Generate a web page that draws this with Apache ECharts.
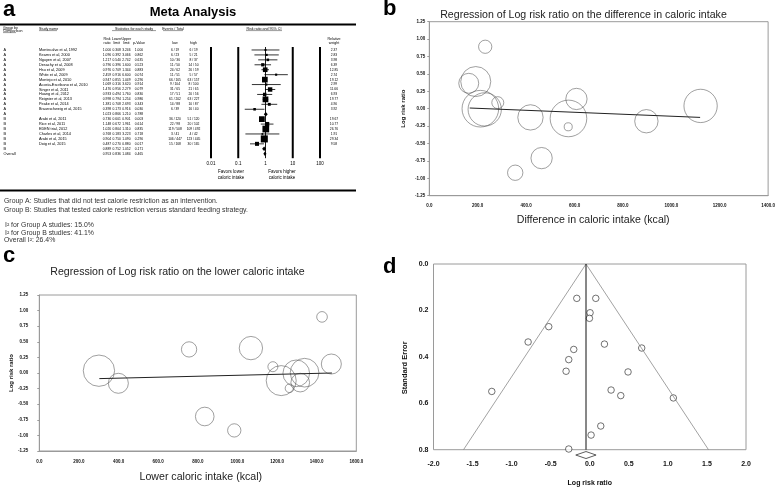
<!DOCTYPE html>
<html>
<head>
<meta charset="utf-8">
<script src="https://cdn.jsdelivr.net/npm/echarts@6/dist/echarts.min.js"></script>
<style>html,body{margin:0;padding:0;background:#fff}#main{width:778px;height:489px}</style>
</head>
<body>
<div id="main"></div>
<script>
// ===== Panel a : forest plot table =====
const groupLabels = ['A','A','A','A','A','A','A','A','A','A','A','A','A','A','B','B','B','B','B','B','B','Overall'];
const studyNames = ['Montecalvo et al, 1992','Kearns et al, 2000','Nguyen et al, 2007','Desachy et al, 2008','Hsu et al, 2009','White et al, 2009','Montejo et al, 2010','Acosta-Escribano et al, 2010','Singer et al, 2011','Huang et al, 2012','Reignier et al, 2013','Peake et al, 2014','Braunschweig et al, 2015','','Arabi et al, 2011','Rice et al, 2011','EDEN trial, 2012','Charles et al, 2014','Arabi et al, 2015','Doig et al, 2015','',''];
const riskRatio  = [1.000,1.096,1.217,0.796,0.976,2.459,0.947,1.069,1.476,0.933,0.998,1.381,0.398,1.023,0.736,1.148,1.026,0.768,0.904,0.487,0.889,0.953];
const lowerLimit = [0.308,0.392,0.540,0.396,0.709,0.916,0.855,0.316,0.956,0.494,0.794,0.708,0.173,0.866,0.601,0.672,0.804,0.183,0.750,0.270,0.752,0.836];
const upperLimit = [3.246,3.066,2.742,1.600,1.344,6.600,1.049,3.620,2.279,1.760,1.254,2.693,0.916,1.210,0.901,1.961,1.310,3.223,1.090,0.880,1.052,1.084];
const pValue     = [1.000,0.862,0.635,0.523,0.883,0.074,0.296,0.914,0.079,0.830,0.986,0.343,0.030,0.788,0.003,0.614,0.835,0.718,0.290,0.017,0.171,0.465];
const eventsLow  = ['6 / 19','6 / 23','10 / 36','11 / 50','24 / 62','11 / 51','66 / 165','9 / 104','31 / 65','17 / 51','61 / 202','14 / 88','6 / 39','','36 / 120','22 / 98','119 / 508','3 / 41','106 / 447','15 / 168','',''];
const eventsHigh = ['6 / 19','5 / 21','8 / 37','14 / 50','26 / 59','5 / 57','63 / 157','8 / 100','21 / 65','20 / 56','63 / 227','10 / 87','16 / 40','','51 / 120','20 / 102','109 / 492','4 / 42','123 / 445','30 / 165','',''];
const relWeight  = [2.37,2.83,3.98,6.39,12.85,2.74,19.12,2.99,11.66,6.93,19.77,4.90,3.92,null,19.67,10.77,26.76,1.91,29.34,9.58,null,null];
const isSummary  = [0,0,0,0,0,0,0,0,0,0,0,0,0,1,0,0,0,0,0,0,1,1];
const forestTicks = [0.01, 0.1, 1, 10, 100];

// ===== Panel b : regression on difference in caloric intake =====
const diffIntake = [231, 163, 192, 283, 211, 229, 418, 575, 574, 608, 464, 355, 897, 1121];
const diffLogRR  = [0.89, 0.365, 0.39, 0.087, 0.0, -0.01, -0.125, -0.14, -0.26, 0.14, -0.71, -0.92, -0.18, 0.04];
const diffWeight = [3.8, 8.6, 19.5, 3.1, 29, 24, 13.9, 29, 1.4, 9.8, 9.8, 5.1, 11.8, 24];
const diffRegLine = [[167, 0.01], [1119, -0.125]];

// ===== Panel c : regression on lower caloric intake =====
const lowIntake = [301, 399, 756, 835, 984, 1068, 1179, 1221, 1263, 1297, 1317, 1339, 1427, 1474];
const lowLogRR  = [0.037, -0.165, 0.378, -0.697, -0.92, 0.399, 0.101, -0.122, -0.245, -0.005, -0.154, 0.005, 0.899, 0.144];
const lowWeight = [29.4, 12, 7, 10.4, 5.3, 16.3, 3, 27, 2.25, 21.3, 10.4, 24.6, 3.4, 12];
const lowRegLine = [[303, -0.09], [1477, 0.0]];

// ===== Panel d : funnel plot =====
const funnelLogRR = [-0.166, 0.077, 0.004, -0.004, -0.525, -0.789, 0.188, 0.665, -0.205, -0.269, -0.303, 0.490, -1.254, 0.273, 0.397, 1.070, 0.141, 0.017, -0.269];
const funnelSE    = [0.148, 0.148, 0.210, 0.234, 0.270, 0.336, 0.345, 0.362, 0.368, 0.412, 0.462, 0.465, 0.549, 0.543, 0.567, 0.577, 0.698, 0.737, 0.797];
const pooledLogRR = -0.048;
const pooledCI = [-0.179, 0.081];
const funnelLeft  = [[-0.048, 0], [-1.616, 0.8]];
const funnelRight = [[-0.048, 0], [1.52, 0.8]];
const funnelMid   = [[-0.048, 0], [-0.048, 0.8]];
const diamondSE = 0.823;

// ---------------- layout / styles ----------------
const FONT = '"Liberation Sans", Arial, sans-serif';
const nameFont = '3.8px ' + FONT;
const numFont = '3.3px ' + FONT;
const tableCols = [
  {src: groupLabels, x: 3.5, align: 'left', font: nameFont},
  {src: studyNames,  x: 39,  align: 'left', font: nameFont},
  {src: riskRatio,   x: 107, align: 'center', dec: 3, font: numFont},
  {src: lowerLimit,  x: 116.7, align: 'center', dec: 3, font: numFont},
  {src: upperLimit,  x: 126.4, align: 'center', dec: 3, font: numFont},
  {src: pValue,      x: 139, align: 'center', dec: 3, font: numFont},
  {src: eventsLow,   x: 175, align: 'center', font: numFont},
  {src: eventsHigh,  x: 193.5, align: 'center', font: numFont},
  {src: relWeight,   x: 334, align: 'center', dec: 2, font: numFont}
];

function txt(text, x, y, font, align, valign, fill, rotation) {
  return {
    type: 'text', x: x, y: y, rotation: rotation || 0, silent: true,
    style: {text: text, font: font, fill: fill || '#000',
      align: align || 'left', textAlign: align || 'left',
      verticalAlign: valign || 'middle', textVerticalAlign: valign || 'middle'}
  };
}
function hline(x1, x2, y, w, c) {
  return {type: 'line', silent: true, shape: {x1: x1, y1: y, x2: x2, y2: y}, style: {stroke: c || '#000', lineWidth: w}};
}

const hdrFont = '3.6px ' + FONT;
const noteFont = '6.9px ' + FONT;
const graphics = [
  txt('a', 3, 10, 'bold 22px ' + FONT),
  txt('b', 383, 9, 'bold 22px ' + FONT),
  txt('c', 3, 256, 'bold 22px ' + FONT),
  txt('d', 383, 267, 'bold 22px ' + FONT),
  txt('Meta Analysis', 193, 12, 'bold 13px ' + FONT, 'center'),
  hline(0, 356, 24.5, 2),
  hline(0, 356, 190.5, 2),
  // headers
  txt('Group by', 3, 28, hdrFont), txt('Comparison', 3, 31, hdrFont),
  hline(3, 11, 29.6, 0.4), hline(3, 16, 32.6, 0.4),
  txt('Study name', 39, 29, hdrFont), hline(39, 57, 30.6, 0.4),
  txt('Statistics for each study', 134, 29, hdrFont, 'center'), hline(112, 156, 30.6, 0.4),
  txt('Events / Total', 173, 29, hdrFont, 'center'), hline(163, 183, 30.6, 0.4),
  txt('Risk ratio and 95% CI', 264, 29, hdrFont, 'center'), hline(246, 282, 30.6, 0.4),
  txt('Risk', 107, 39, hdrFont, 'center'), txt('ratio', 107, 43, hdrFont, 'center'),
  txt('Lower', 116.7, 39, hdrFont, 'center'), txt('limit', 116.7, 43, hdrFont, 'center'),
  txt('Upper', 126.4, 39, hdrFont, 'center'), txt('limit', 126.4, 43, hdrFont, 'center'),
  txt('p-Value', 139, 43, hdrFont, 'center'),
  txt('low', 175, 43, hdrFont, 'center'), txt('high', 193.5, 43, hdrFont, 'center'),
  txt('Relative', 334, 39, hdrFont, 'center'), txt('weight', 334, 43, hdrFont, 'center'),
  txt('Favors lower', 231, 172, '4.5px ' + FONT, 'center'),
  txt('caloric intake', 231, 178, '4.5px ' + FONT, 'center'),
  txt('Favors higher', 282, 172, '4.5px ' + FONT, 'center'),
  txt('caloric intake', 282, 178, '4.5px ' + FONT, 'center'),
  // footnotes
  txt('Group A: Studies that did not test calorie restriction as an intervention.', 4, 201.5, noteFont, 'left', 'middle', '#333'),
  txt('Group B: Studies that tested calorie restriction versus standard feeding strategy.', 4, 210.5, noteFont, 'left', 'middle', '#333'),
  txt('I\u00B2 for Group A studies: 15.0%', 5, 225.5, noteFont, 'left', 'middle', '#333'),
  txt('I\u00B2 for Group B studies: 41.1%', 5, 233, noteFont, 'left', 'middle', '#333'),
  txt('Overall I\u00B2: 26.4%', 4, 240.5, noteFont, 'left', 'middle', '#333'),
  // titles
  txt('Regression of Log risk ratio on the difference in caloric intake', 583.5, 15, '10.6px ' + FONT, 'center', 'middle', '#222'),
  txt('Regression of Log risk ratio on the lower caloric intake', 177.5, 272, '10.6px ' + FONT, 'center', 'middle', '#222')
];

function fmtCell(c, i) {
  const v = c.src[i];
  if (v === null || v === undefined || v === '') return '';
  return c.dec !== undefined ? Number(v).toFixed(c.dec) : String(v);
}

function renderForest(params, api) {
  const row = api.value(3);
  const y = api.coord([1, row])[1];
  const xc = api.coord([api.value(0), row])[0];
  const xl = api.coord([api.value(1), row])[0];
  const xh = api.coord([api.value(2), row])[0];
  const children = [];
  if (params.dataIndex === 0) {
    const cs = params.coordSys;
    forestTicks.forEach(function (t) {
      const x = api.coord([t, 0])[0];
      children.push({type: 'line', shape: {x1: x, y1: cs.y - 0.5, x2: x, y2: cs.y + cs.height + 2},
        style: {stroke: '#000', lineWidth: t === 1 ? 0.9 : 2}});
    });
  }
  if (api.value(5) === 1) {
    children.push({type: 'polygon', shape: {points: [[xl, y], [xc, y - 2.2], [xh, y], [xc, y + 2.2]]}, style: {fill: '#000'}});
  } else {
    const s = 1.3 * Math.sqrt(api.value(4));
    children.push({type: 'line', shape: {x1: xl, y1: y, x2: xh, y2: y}, style: {stroke: '#000', lineWidth: 0.8}});
    children.push({type: 'rect', shape: {x: xc - s / 2, y: y - s / 2, width: s, height: s}, style: {fill: '#000'}});
  }
  return {type: 'group', children: children};
}

function renderTable(params, api) {
  const i = params.dataIndex;
  const y = api.coord([1, i])[1];
  return {
    type: 'group',
    children: tableCols.map(function (c) {
      return txt(fmtCell(c, i), c.x, y, c.font, c.align, 'middle', '#000');
    })
  };
}

function renderDiamond(params, api) {
  const c = api.coord([api.value(0), api.value(3)]);
  const l = api.coord([api.value(1), api.value(3)]);
  const h = api.coord([api.value(2), api.value(3)]);
  return {type: 'polygon', shape: {points: [[l[0], c[1]], [c[0], c[1] - 3.5], [h[0], c[1]], [c[0], c[1] + 3.5]]},
    style: {fill: '#fff', stroke: '#333', lineWidth: 0.8}};
}

const forestData = riskRatio.map(function (rr, i) {
  return [rr, lowerLimit[i], upperLimit[i], i, relWeight[i] || 0, isSummary[i]];
});
const tableData = studyNames.map(function (n, i) { return [1, i]; });

const gray = '#9a9a9a';
const smallLab = {fontSize: 4.5, fontWeight: 'bold', color: '#111', fontFamily: FONT};

function regAxisX(idx, max, name, gap, pad) {
  return {
    type: 'value', gridIndex: idx, min: 0, max: max, interval: 200,
    axisLine: {show: true, onZero: false, lineStyle: {color: gray, width: 1}},
    axisTick: {show: false}, splitLine: {show: false},
    axisLabel: Object.assign({margin: 8, formatter: function (v) { return v.toFixed(1); }}, smallLab),
    name: name, nameLocation: 'middle', nameGap: gap,
    nameTextStyle: {fontSize: 10.6, color: '#222', fontFamily: FONT, padding: pad}
  };
}
function regAxisY(idx, margin, gap) {
  return {
    type: 'value', gridIndex: idx, min: -1.25, max: 1.25, interval: 0.25,
    axisLine: {show: true, onZero: false, lineStyle: {color: gray, width: 1}},
    axisTick: {show: true, length: 2, lineStyle: {color: gray}}, splitLine: {show: false},
    axisLabel: Object.assign({margin: margin, formatter: function (v) { return v.toFixed(2); }}, smallLab),
    name: 'Log risk ratio', nameLocation: 'middle', nameGap: gap, nameRotate: 90,
    nameTextStyle: {fontSize: 6, fontWeight: 'bold', color: '#111', fontFamily: FONT}
  };
}

const option = {
  animation: false,
  backgroundColor: '#fff',
  graphic: {elements: graphics},
  grid: [
    {left: 211, top: 47.5, width: 109, height: 108.7},
    {left: 429.3, top: 21.7, width: 340.7, height: 174, show: true, borderColor: gray, borderWidth: 1},
    {left: 39.3, top: 295, width: 317, height: 156, show: true, borderColor: gray, borderWidth: 1},
    {left: 433.5, top: 264, width: 312.5, height: 185.7, show: true, borderColor: gray, borderWidth: 1}
  ],
  xAxis: [
    {type: 'log', logBase: 10, gridIndex: 0, min: 0.01, max: 100,
      axisLine: {show: false}, axisTick: {show: false}, splitLine: {show: false},
      axisLabel: {fontSize: 4.5, color: '#000', margin: 5, fontFamily: FONT,
        formatter: function (v) { return v >= 1 ? String(Math.round(v)) : String(+v.toPrecision(1)); }}},
    regAxisX(1, 1400, 'Difference in caloric intake (kcal)', 19, [0, 11, 0, 0]),
    regAxisX(2, 1600, 'Lower caloric intake (kcal)', 20.4, [0, 0, 0, 6]),
    {type: 'value', gridIndex: 3, min: -2, max: 2, interval: 0.5,
      axisLine: {show: false}, axisTick: {show: false}, splitLine: {show: false},
      axisLabel: {fontSize: 7, fontWeight: 'bold', color: '#111', margin: 11, fontFamily: FONT,
        formatter: function (v) { return v.toFixed(1); }},
      name: 'Log risk ratio', nameLocation: 'middle', nameGap: 30,
      nameTextStyle: {fontSize: 7, fontWeight: 'bold', color: '#111', fontFamily: FONT}}
  ],
  yAxis: [
    {type: 'value', gridIndex: 0, min: -0.5, max: 21.5, inverse: true, show: false},
    regAxisY(1, 4, 23),
    regAxisY(2, 11, 21),
    {type: 'value', gridIndex: 3, min: 0, max: 0.8, interval: 0.2, inverse: true,
      axisLine: {show: false}, axisTick: {show: false}, splitLine: {show: false},
      axisLabel: {fontSize: 7, fontWeight: 'bold', color: '#111', margin: 5, fontFamily: FONT,
        formatter: function (v) { return v.toFixed(1); }},
      name: 'Standard Error', nameLocation: 'middle', nameGap: 24.5, nameRotate: 90,
      nameTextStyle: {fontSize: 7.5, fontWeight: 'bold', color: '#111', fontFamily: FONT, padding: [0, 22, 0, 0]}}
  ],
  series: [
    {type: 'custom', xAxisIndex: 0, yAxisIndex: 0, clip: false, silent: true,
      renderItem: renderForest, data: forestData, z: 3},
    {type: 'custom', xAxisIndex: 0, yAxisIndex: 0, clip: false, silent: true,
      renderItem: renderTable, data: tableData, z: 3},
    {type: 'line', xAxisIndex: 1, yAxisIndex: 1, data: diffRegLine, symbol: 'none', silent: true,
      lineStyle: {color: '#222', width: 1}},
    {type: 'scatter', xAxisIndex: 1, yAxisIndex: 1, silent: true,
      data: diffIntake.map(function (x, i) { return [x, diffLogRR[i], diffWeight[i]]; }),
      symbolSize: function (v) { return 6.8 * Math.sqrt(v[2]); },
      itemStyle: {color: 'rgba(0,0,0,0)', borderColor: '#555', borderWidth: 0.7}},
    {type: 'line', xAxisIndex: 2, yAxisIndex: 2, data: lowRegLine, symbol: 'none', silent: true,
      lineStyle: {color: '#222', width: 1}},
    {type: 'scatter', xAxisIndex: 2, yAxisIndex: 2, silent: true,
      data: lowIntake.map(function (x, i) { return [x, lowLogRR[i], lowWeight[i]]; }),
      symbolSize: function (v) { return 5.78 * Math.sqrt(v[2]); },
      itemStyle: {color: 'rgba(0,0,0,0)', borderColor: '#555', borderWidth: 0.7}},
    {type: 'line', xAxisIndex: 3, yAxisIndex: 3, data: funnelLeft, symbol: 'none', silent: true,
      lineStyle: {color: '#8a8a8a', width: 0.8}},
    {type: 'line', xAxisIndex: 3, yAxisIndex: 3, data: funnelRight, symbol: 'none', silent: true,
      lineStyle: {color: '#8a8a8a', width: 0.8}},
    {type: 'line', xAxisIndex: 3, yAxisIndex: 3, data: funnelMid, symbol: 'none', silent: true,
      lineStyle: {color: '#111', width: 1}},
    {type: 'scatter', xAxisIndex: 3, yAxisIndex: 3, silent: true,
      data: funnelLogRR.map(function (x, i) { return [x, funnelSE[i]]; }),
      symbolSize: 6.5,
      itemStyle: {color: '#fff', borderColor: '#222', borderWidth: 0.8}},
    {type: 'custom', xAxisIndex: 3, yAxisIndex: 3, clip: false, silent: true,
      renderItem: renderDiamond, data: [[pooledLogRR, pooledCI[0], pooledCI[1], diamondSE]]}
  ]
};

const chart = echarts.init(document.getElementById('main'));
chart.setOption(option);
</script>
</body>
</html>
